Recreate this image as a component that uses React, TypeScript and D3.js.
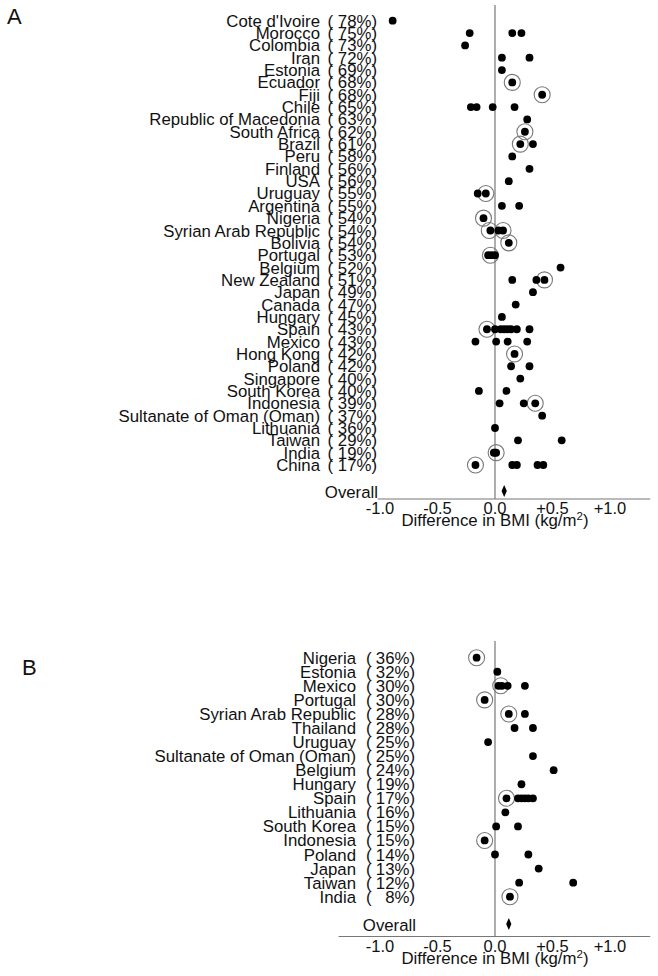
import React from "react";
import * as d3 from "d3";

// ---------- Panel A data ----------
const countriesA = [
  "Cote d'Ivoire", "Morocco", "Colombia", "Iran", "Estonia", "Ecuador", "Fiji", "Chile",
  "Republic of Macedonia", "South Africa", "Brazil", "Peru", "Finland", "USA", "Uruguay",
  "Argentina", "Nigeria", "Syrian Arab Republic", "Bolivia", "Portugal", "Belgium",
  "New Zealand", "Japan", "Canada", "Hungary", "Spain", "Mexico", "Hong Kong", "Poland",
  "Singapore", "South Korea", "Indonesia", "Sultanate of Oman (Oman)", "Lithuania",
  "Taiwan", "India", "China",
];
const percentsA = [78, 75, 73, 72, 69, 68, 68, 65, 63, 62, 61, 58, 56, 56, 55, 55, 54, 54, 54, 53, 52, 51, 49, 47, 45, 43, 43, 42, 42, 40, 40, 39, 37, 36, 29, 19, 17];
const valuesA: number[][] = [
  [-0.89],
  [-0.22, 0.15, 0.23],
  [-0.26],
  [0.06, 0.30],
  [0.06],
  [0.15],
  [0.41],
  [-0.21, -0.16, -0.02, 0.17],
  [0.28],
  [0.26],
  [0.22, 0.33],
  [0.15],
  [0.30],
  [0.12],
  [-0.15, -0.08],
  [0.06, 0.21],
  [-0.10],
  [-0.04, 0.03, 0.07],
  [0.12],
  [-0.06, -0.03, 0.0],
  [0.57],
  [0.15, 0.36, 0.43],
  [0.33],
  [0.18],
  [0.06],
  [-0.07, 0.0, 0.05, 0.08, 0.11, 0.14, 0.19, 0.30],
  [-0.17, 0.01, 0.11, 0.28],
  [0.17],
  [0.14, 0.30],
  [0.22],
  [-0.14, 0.10],
  [0.04, 0.25, 0.35],
  [0.41],
  [0.0],
  [0.20, 0.58],
  [-0.01, 0.0, 0.01],
  [-0.17, 0.15, 0.19, 0.37, 0.42],
];
const ringedA: number[][] = [
  [], [], [], [], [], [0.15], [0.41], [], [], [0.26], [0.22], [], [], [], [-0.08], [],
  [-0.10], [-0.05, 0.07], [0.12], [-0.04], [], [0.43], [], [], [], [-0.07], [], [0.17],
  [], [], [], [0.35], [], [], [], [0.01], [-0.17],
];
const overallA = 0.08;

// ---------- Panel B data ----------
const countriesB = [
  "Nigeria", "Estonia", "Mexico", "Portugal", "Syrian Arab Republic", "Thailand", "Uruguay",
  "Sultanate of Oman (Oman)", "Belgium", "Hungary", "Spain", "Lithuania", "South Korea",
  "Indonesia", "Poland", "Japan", "Taiwan", "India",
];
const percentsB = [36, 32, 30, 30, 28, 28, 25, 25, 24, 19, 17, 16, 15, 15, 14, 13, 12, 8];
const valuesB: number[][] = [
  [-0.16],
  [0.02],
  [0.03, 0.06, 0.11, 0.26],
  [-0.09],
  [0.12, 0.26],
  [0.17, 0.33],
  [-0.06],
  [0.33],
  [0.51],
  [0.23],
  [0.10, 0.20, 0.23, 0.26, 0.29, 0.33],
  [0.09],
  [0.01, 0.20],
  [-0.09],
  [0.0, 0.29],
  [0.38],
  [0.21, 0.68],
  [0.13],
];
const ringedB: number[][] = [
  [-0.16], [], [0.05], [-0.09], [0.12], [], [], [], [], [], [0.10], [], [], [-0.09], [], [], [], [0.13],
];
const overallB = 0.12;

// ---------- Axis ----------
const tickValues = [-1, -0.5, 0, 0.5, 1];
const tickLabels = ["-1.0", "-0.5", "0.0", "+0.5", "+1.0"];

const FONT = "Arial, 'Liberation Sans', Helvetica, sans-serif";
const FS = 16.8;

const x = d3.scaleLinear().domain([-1, 1]).range([380, 610]);

type PanelProps = {
  letter: string;
  letterX: number;
  letterY: number;
  countries: string[];
  percents: number[];
  values: number[][];
  ringed: number[][];
  overall: number;
  yTop: number;
  yBottom: number;
  nameX: number;
  parenX: number;
  pctEndX: number;
  zeroTop: number;
  overallY: number;
  axisY: number;
  axisStart: number;
};

function Panel(p: PanelProps) {
  const y = d3.scaleLinear().domain([0, p.countries.length - 1]).range([p.yTop, p.yBottom]);
  const x0 = x(0);
  return (
    <g fontFamily={FONT}>
      <text x={p.letterX} y={p.letterY} fontSize={22} fill="#111">{p.letter}</text>
      {/* zero line */}
      <line x1={x0} x2={x0} y1={p.zeroTop} y2={p.axisY} stroke="#777" strokeWidth={1.2} />
      {/* axis line */}
      <line x1={x(p.axisStart)} x2={x(1.35)} y1={p.axisY} y2={p.axisY} stroke="#777" strokeWidth={1.2} />
      {p.countries.map((c, i) => (
        <g key={c + i}>
          <text x={p.nameX} y={y(i) + 6} fontSize={FS} textAnchor="end" fill="#111">{c}</text>
          <text x={p.parenX} y={y(i) + 6} fontSize={FS} fill="#111">(</text>
          <text x={p.pctEndX} y={y(i) + 6} fontSize={FS} textAnchor="end" fill="#111">{`${p.percents[i]}%)`}</text>
          {p.ringed[i].map((v, j) => (
            <circle key={"r" + j} cx={x(v)} cy={y(i)} r={8} fill="none" stroke="#777" strokeWidth={1.1} />
          ))}
          {p.values[i].map((v, j) => (
            <circle key={"d" + j} cx={x(v)} cy={y(i)} r={3.9} fill="#000" />
          ))}
        </g>
      ))}
      <text x={p.pctEndX + 1} y={p.overallY + 7} fontSize={FS} textAnchor="end" fill="#111">Overall</text>
      <path
        d={`M${x(p.overall)},${p.overallY - 6} L${x(p.overall) + 2.6},${p.overallY} L${x(p.overall)},${p.overallY + 6} L${x(p.overall) - 2.6},${p.overallY} Z`}
        fill="#000"
      />
      {tickValues.map((t, i) => (
        <text key={t} x={x(t)} y={p.axisY + 15} fontSize={16.5} textAnchor="middle" fill="#111">{tickLabels[i]}</text>
      ))}
      <text x={x(0)} y={p.axisY + 27} fontSize={FS} textAnchor="middle" fill="#111">
        Difference in BMI (kg/m<tspan fontSize={11.5} dy={-6}>2</tspan><tspan dy={6}>)</tspan>
      </text>
    </g>
  );
}

export default function App() {
  return (
    <svg width={658} height={976} style={{ position: "absolute", left: 0, top: 0, background: "#fff" }}>
      <rect x={0} y={0} width={658} height={976} fill="#fff" />
      <Panel
        letter="A" letterX={7} letterY={24}
        countries={countriesA} percents={percentsA} values={valuesA} ringed={ringedA} overall={overallA}
        yTop={20.7} yBottom={465} nameX={320} parenX={327.5} pctEndX={377}
        zeroTop={5} overallY={491} axisY={499} axisStart={-1.02}
      />
      <Panel
        letter="B" letterX={22} letterY={675}
        countries={countriesB} percents={percentsB} values={valuesB} ringed={ringedB} overall={overallB}
        yTop={657.7} yBottom={896.7} nameX={356} parenX={366} pctEndX={415}
        zeroTop={641} overallY={924} axisY={936.5} axisStart={-1.36}
      />
    </svg>
  );
}
